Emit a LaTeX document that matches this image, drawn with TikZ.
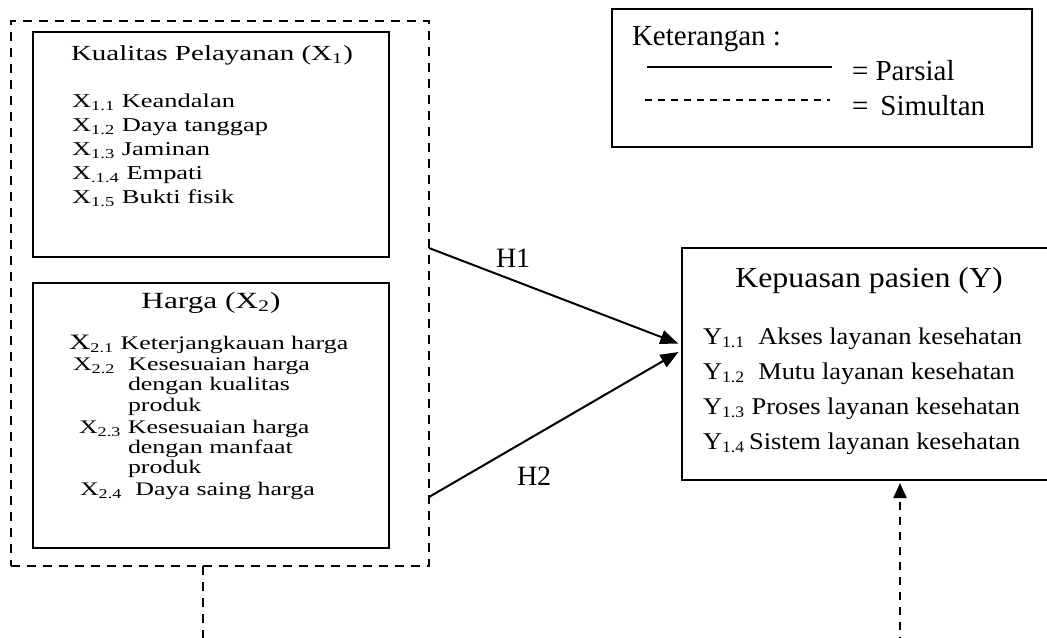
\documentclass[tikz,border=0pt]{standalone}
\usepackage{fontspec}
\setmainfont{Liberation Serif}
\newfontfamily\xwide[FakeStretch=1.35]{Liberation Serif}
\newfontfamily\ywide[FakeStretch=1.1]{Liberation Serif}
\usetikzlibrary{arrows.meta}
\newcommand\fsz[1]{\fontsize{#1}{#1}\selectfont}
\begin{document}
\begin{tikzpicture}[x=0.5pt,y=-0.5pt,
 box/.style={draw, line width=0.95pt, inner sep=0, outer sep=0},
 dbox/.style={draw, line width=0.8pt, dash pattern=on 4.5pt off 3.5pt, inner sep=0, outer sep=0},
 txt/.style={anchor=base west, inner sep=0, outer sep=0},
 ctxt/.style={anchor=base, inner sep=0, outer sep=0},
 xtitle/.style={ctxt, font=\xwide},
 xitem/.style={txt, font=\xwide\fsz{9.8}},
 xitemb/.style={txt, font=\xwide\fsz{9.6}},
 yitem/.style={txt, font=\ywide\fsz{12}},
 arr/.style={line width=1pt, -{Triangle[length=9pt,width=7pt]}},
 darr/.style={line width=1pt, dash pattern=on 4pt off 3.5pt, -{Triangle[length=7.5pt,width=6.5pt]}},
 dline/.style={line width=0.8pt, dash pattern=on 4.5pt off 3.5pt},
]
\useasboundingbox (0,0) rectangle (1047,637);
\clip (0,0) rectangle (1047,637);

% outer dashed box and inner boxes
\node[dbox, minimum width=209pt, minimum height=272.5pt] (outer) at (220,293.5) {};
\node[box, minimum width=178pt, minimum height=112.5pt] (x1) at (211,144.5) {};
\node[box, minimum width=178pt, minimum height=132.5pt] (x2) at (211,415.5) {};

% X1 content
\node[xtitle, font=\xwide\fsz{10.75}] (x1t) at (212,60) {Kualitas Pelayanan (X\textsubscript{1})};
\node[xitem] (x11) at (72,107) {X\textsubscript{1.1} Keandalan};
\node[xitem] (x12) at (72,131) {X\textsubscript{1.2} Daya tanggap};
\node[xitem] (x13) at (72,155) {X\textsubscript{1.3} Jaminan};
\node[xitem] (x14) at (72,179) {X\textsubscript{.1.4} Empati};
\node[xitem] (x15) at (72,203) {X\textsubscript{1.5} Bukti fisik};

% X2 content
\node[xtitle, font=\xwide\fsz{11.6}] (x2t) at (211,308) {Harga (X\textsubscript{2})};
\node[xitemb] (x21) at (69,349) {{\fsz{11}X}\textsubscript{2.1}\ Keterjangkauan harga};
\node[xitemb] (x22) at (73,370) {X\textsubscript{2.2}\ \ Kesesuaian harga};
\node[xitemb] (x22b) at (128,390) {dengan kualitas};
\node[xitemb] (x22c) at (128,411) {produk};
\node[xitemb] (x23) at (79,433) {X\textsubscript{2.3} Kesesuaian harga};
\node[xitemb] (x23b) at (128,453) {dengan manfaat};
\node[xitemb] (x23c) at (128,473) {produk};
\node[xitemb] (x24) at (80,495) {X\textsubscript{2.4}\ \ Daya saing harga};

% legend
\node[box, minimum width=210pt, minimum height=69pt] (leg) at (822,78) {};
\node[txt, font=\fsz{14.5}] (legt) at (632,45) {Keterangan :};
\coordinate (ls1) at (647,67);
\coordinate (ls2) at (832,67);
\draw[line width=1pt] (ls1) -- (ls2);
\node[txt, font=\fsz{14.5}] (legp) at (852,80) {= Parsial};
\coordinate (ld1) at (645,100);
\coordinate (ld2) at (830,100);
\draw[line width=0.75pt, dash pattern=on 3.5pt off 3pt] (ld1) -- (ld2);
\node[txt, font=\fsz{14.5}] (legs) at (852,115) {=\ \,Simultan};

% Y box
\node[box, minimum width=189pt, minimum height=116pt] (ybox) at (871,364) {};
\node[ctxt, font=\ywide\fsz{14.5}] (yt) at (869,287) {Kepuasan pasien (Y)};
\node[yitem] (y1) at (703,344) {Y\textsubscript{1.1}\ \ Akses layanan kesehatan};
\node[yitem] (y2) at (703,379) {Y\textsubscript{1.2}\ \ Mutu layanan kesehatan};
\node[yitem] (y3) at (703,414) {Y\textsubscript{1.3} Proses layanan kesehatan};
\node[yitem] (y4) at (703,449) {Y\textsubscript{1.4}\,Sistem layanan kesehatan};

% partial arrows
\draw[arr, shorten >=2pt] (outer.east |- 0,248) -- (ybox.west |- 0,345);
\draw[arr, shorten >=2pt] (outer.east |- 0,497) -- (ybox.west |- 0,350);
\node[txt, font=\fsz{14}] (h1) at (496,267) {H1};
\node[txt, font=\fsz{14}] (h2) at (517,485) {H2};

% simultaneous lines
\coordinate (sb1) at (203,645);
\coordinate (sb2) at (900,645);
\draw[dline] (outer.south -| sb1) -- (sb1);
\draw[darr, shorten >=1.5pt] (sb2) -- (ybox.south -| sb2);
\end{tikzpicture}
\end{document}
